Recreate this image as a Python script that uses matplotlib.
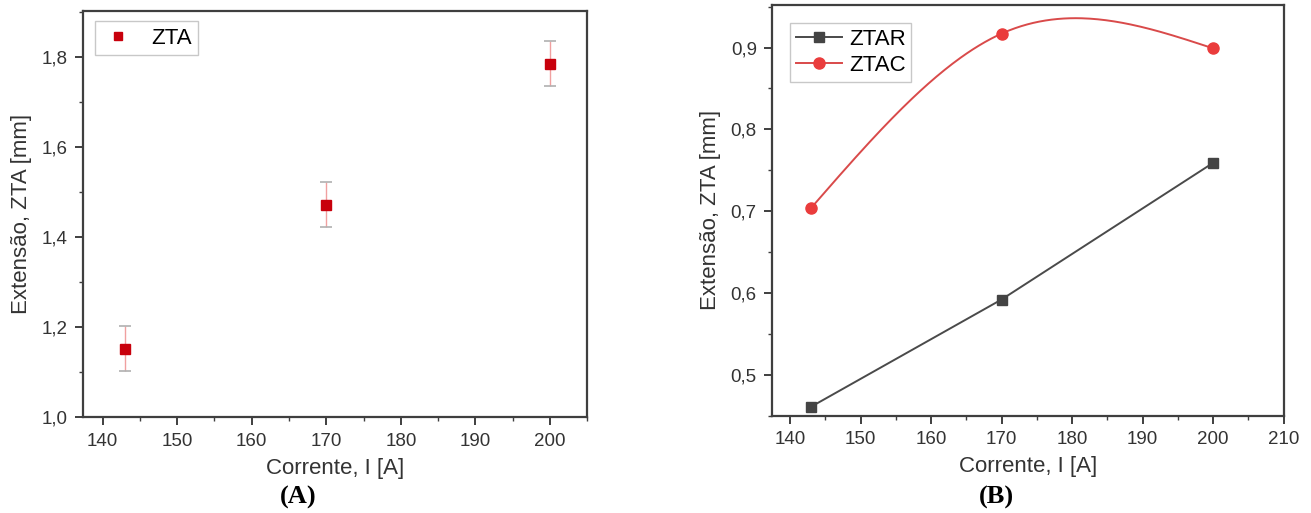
import numpy as np
import matplotlib.pyplot as plt
from matplotlib.ticker import FixedLocator, MultipleLocator, FuncFormatter

# dados (A)
corrente_a = [143, 170, 200]
zta = [1.152, 1.472, 1.786]
zta_err = [0.05, 0.05, 0.05]

# dados (B)
corrente_b = [143, 170, 200]
ztar = [0.461, 0.592, 0.759]
ztac = [0.704, 0.917, 0.899]

xticks_a = [140, 150, 160, 170, 180, 190, 200]
yticks_a = [1.0, 1.2, 1.4, 1.6, 1.8]
xticks_b = [140, 150, 160, 170, 180, 190, 200, 210]
yticks_b = [0.5, 0.6, 0.7, 0.8, 0.9]


def natural_spline(x, y, n=200):
    """spline cubica natural (conexao 'spline' do Origin)"""
    x = np.asarray(x, float)
    y = np.asarray(y, float)
    k = len(x)
    h = np.diff(x)
    A = np.zeros((k, k))
    r = np.zeros(k)
    A[0, 0] = A[-1, -1] = 1.0
    for i in range(1, k - 1):
        A[i, i - 1] = h[i - 1]
        A[i, i] = 2 * (h[i - 1] + h[i])
        A[i, i + 1] = h[i]
        r[i] = 6 * ((y[i + 1] - y[i]) / h[i] - (y[i] - y[i - 1]) / h[i - 1])
    M = np.linalg.solve(A, r)
    xs = np.linspace(x[0], x[-1], n)
    ys = np.empty_like(xs)
    for j, xv in enumerate(xs):
        i = min(np.searchsorted(x, xv, side='right') - 1, k - 2)
        a = x[i + 1] - xv
        b = xv - x[i]
        ys[j] = (M[i] * a ** 3 + M[i + 1] * b ** 3) / (6 * h[i]) \
            + (y[i] / h[i] - M[i] * h[i] / 6) * a \
            + (y[i + 1] / h[i] - M[i + 1] * h[i] / 6) * b
    return xs, ys


plt.rcParams['font.family'] = ['Liberation Sans', 'DejaVu Sans']
spine_c = '#3f3f3f'
text_c = '#333333'
comma = FuncFormatter(lambda v, p: f'{v:.1f}'.replace('.', ','))


def style_axes(ax, xticks, yticks, xlim, ylim):
    ax.set_xlim(*xlim)
    ax.set_ylim(*ylim)
    ax.xaxis.set_major_locator(FixedLocator(xticks))
    ax.yaxis.set_major_locator(FixedLocator(yticks))
    ax.xaxis.set_minor_locator(MultipleLocator(5))
    ax.yaxis.set_minor_locator(MultipleLocator((yticks[1] - yticks[0]) / 2))
    ax.yaxis.set_major_formatter(comma)
    for s in ax.spines.values():
        s.set_color(spine_c)
        s.set_linewidth(1.6)
    ax.tick_params(which='major', direction='out', length=6, width=1.4,
                   color=spine_c, labelsize=13.5, labelcolor=text_c, pad=5)
    ax.tick_params(which='minor', direction='out', length=3, width=1.0, color=spine_c)
    ax.set_xlabel('Corrente, I [A]', fontsize=16, color=text_c, labelpad=6)
    ax.set_ylabel('Extensão, ZTA [mm]', fontsize=16, color=text_c, labelpad=7)


fig = plt.figure(figsize=(13.11, 5.13), dpi=100)
ax1 = fig.add_axes([0.0635, 0.1865, 0.3844, 0.7926])
ax2 = fig.add_axes([0.5889, 0.1897, 0.3902, 0.8006])

# (A)
ax1.errorbar(corrente_a, zta, yerr=zta_err, fmt='none', ecolor='#f0a0a0',
             elinewidth=1.0, capsize=0, zorder=2)
for x, y, e in zip(corrente_a, zta, zta_err):
    ax1.plot([x, x], [y - e, y + e], ls='none', marker='_', ms=8,
             mew=1.2, color='#b0b0b0', zorder=3)
ax1.plot(corrente_a, zta, ls='none', marker='s', ms=7.5, color='#c8000c',
         label='ZTA', zorder=4)
style_axes(ax1, xticks_a, yticks_a, (137.4, 205), (1.0, 1.9035))
leg1 = ax1.legend(loc='upper left', bbox_to_anchor=(0.024, 0.975), borderaxespad=0,
                  fontsize=16, frameon=True, fancybox=False, handletextpad=0.8,
                  borderpad=0.3, handlelength=1.4, markerscale=0.8)
leg1.get_frame().set_edgecolor('#bbbbbb')
leg1.get_frame().set_linewidth(1.0)

# (B)
ax2.plot(corrente_b, ztar, color='#4a4a4a', lw=1.4, marker='s', ms=7,
         mfc='#444444', mec='#444444', label='ZTAR', zorder=3)
xs, ys = natural_spline(corrente_b, ztac)
ax2.plot(xs, ys, color='#d94a4a', lw=1.4, zorder=3)
ax2.plot(corrente_b, ztac, ls='none', marker='o', ms=8, color='#ea3c3c', zorder=4)
ax2.plot([], [], color='#d94a4a', lw=1.4, marker='o', ms=8, mfc='#ea3c3c',
         mec='#ea3c3c', label='ZTAC')
style_axes(ax2, xticks_b, yticks_b, (137.45, 210), (0.45, 0.952))
leg2 = ax2.legend(loc='upper left', bbox_to_anchor=(0.035, 0.956), borderaxespad=0,
                  fontsize=16, frameon=True, fancybox=False, handletextpad=0.3,
                  borderpad=0.25, handlelength=2.1, labelspacing=0.25)
leg2.get_frame().set_edgecolor('#bbbbbb')
leg2.get_frame().set_linewidth(1.0)

fig.text(298 / 1311, 1 - 497 / 513, '(A)', family=['Liberation Serif', 'DejaVu Serif'],
         weight='bold', fontsize=19, ha='center', va='center')
fig.text(996 / 1311, 1 - 497 / 513, '(B)', family=['Liberation Serif', 'DejaVu Serif'],
         weight='bold', fontsize=19, ha='center', va='center')

fig.savefig('out.png', dpi=100)
